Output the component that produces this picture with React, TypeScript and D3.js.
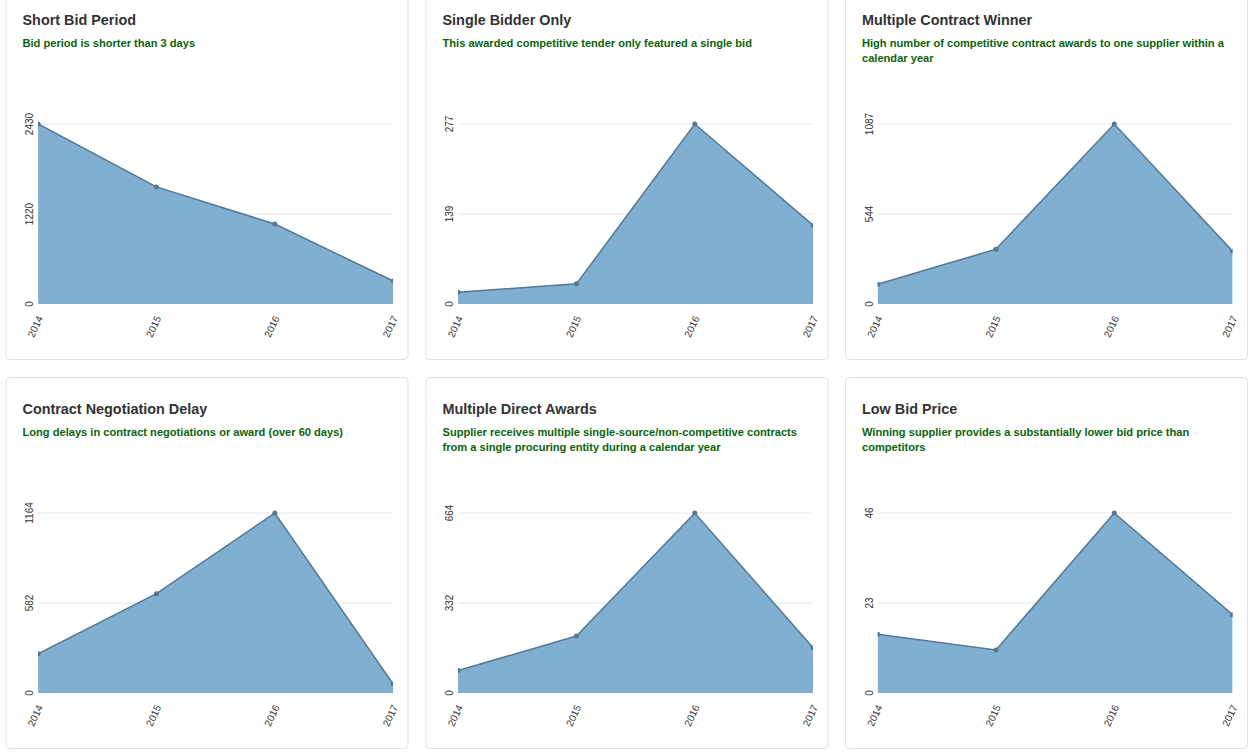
import React from "react";
import * as d3 from "d3";

const years = ["2014", "2015", "2016", "2017"];

const titles = [
  "Short Bid Period",
  "Single Bidder Only",
  "Multiple Contract Winner",
  "Contract Negotiation Delay",
  "Multiple Direct Awards",
  "Low Bid Price",
];

const subtitles = [
  ["Bid period is shorter than 3 days"],
  ["This awarded competitive tender only featured a single bid"],
  ["High number of competitive contract awards to one supplier within a", "calendar year"],
  ["Long delays in contract negotiations or award (over 60 days)"],
  ["Supplier receives multiple single-source/non-competitive contracts", "from a single procuring entity during a calendar year"],
  ["Winning supplier provides a substantially lower bid price than", "competitors"],
];

// counts per year for each red flag
const shortBid = [2430, 1581, 1080, 311];
const singleBidder = [18, 31, 277, 121];
const multiWinner = [119, 331, 1087, 319];
const negotiationDelay = [254, 642, 1164, 58];
const directAwards = [83, 210, 664, 167];
const lowBid = [15, 11, 46, 20];

const series = [shortBid, singleBidder, multiWinner, negotiationDelay, directAwards, lowBid];

// y tick labels as shown (0, half, max)
const tickLabels = [
  ["0", "1220", "2430"],
  ["0", "139", "277"],
  ["0", "544", "1087"],
  ["0", "582", "1164"],
  ["0", "332", "664"],
  ["0", "23", "46"],
];

const cardW = 402;
const cardH = 371;
const colX = [5.5, 425.5, 845];
const rowY = [-12, 377];
const plotLeft = 32.6;
const plotTop = 136;
const plotW = 355;
const plotH = 180;

const font = "'Liberation Sans', Arial, Helvetica, sans-serif";

function Panel({ i }: { i: number }) {
  const values = series[i];
  const max = d3.max(values) as number;
  const x = d3.scalePoint<string>().domain(years).range([0, plotW]);
  const y = d3.scaleLinear().domain([0, max]).range([plotH, 0]);
  const ticks = [0, max / 2, max];

  const pts = years.map((yr, k) => ({ yr, v: values[k] }));
  const area = d3
    .area<{ yr: string; v: number }>()
    .x((d) => x(d.yr) as number)
    .y0(plotH)
    .y1((d) => y(d.v));
  const line = d3
    .line<{ yr: string; v: number }>()
    .x((d) => x(d.yr) as number)
    .y((d) => y(d.v));

  const cx = colX[i % 3];
  const cy = rowY[Math.floor(i / 3)];
  const clipId = `clip-${i}`;

  return (
    <g transform={`translate(${cx},${cy})`}>
      <rect x={0.5} y={0.5} width={cardW} height={cardH} rx={4} fill="#fff" stroke="#e2e2e2" />
      <text x={17} y={37} fontSize={14.4} fontWeight="bold" fill="#333" fontFamily={font}>
        {titles[i]}
      </text>
      {subtitles[i].map((s, k) => (
        <text key={k} x={17} y={59 + k * 15} fontSize={11.1} fontWeight="bold" fill="#0b640b" fontFamily={font}>
          {s}
        </text>
      ))}
      <g transform={`translate(${plotLeft},${plotTop})`}>
        <defs>
          <clipPath id={clipId}>
            <rect x={0} y={-6} width={plotW} height={plotH + 6} />
          </clipPath>
        </defs>
        {ticks.slice(1).map((t, k) => (
          <line key={k} x1={0} x2={plotW} y1={y(t)} y2={y(t)} stroke="#e8e8e8" strokeWidth={1} />
        ))}
        <g clipPath={`url(#${clipId})`}>
          <path d={area(pts) || ""} fill="#80afd2" />
          <path d={line(pts) || ""} fill="none" stroke="#56788f" strokeWidth={1.5} />
          {pts.map((d, k) => (
            <circle key={k} cx={x(d.yr)} cy={y(d.v)} r={2.5} fill="#56788f" />
          ))}
        </g>
        {ticks.map((t, k) => (
          <text
            key={k}
            transform={`translate(-5,${y(t)}) rotate(-90)`}
            textAnchor="middle"
            fontSize={10}
            fill="#333"
            fontFamily={font}
          >
            {tickLabels[i][k]}
          </text>
        ))}
        {years.map((yr) => (
          <text
            key={yr}
            transform={`translate(${(x(yr) as number) + 5},${plotH + 14}) rotate(-65)`}
            textAnchor="end"
            fontSize={10}
            fill="#333"
            fontFamily={font}
          >
            {yr}
          </text>
        ))}
      </g>
    </g>
  );
}

export default function App() {
  return (
    <svg
      width={1255}
      height={754}
      style={{ position: "absolute", left: 0, top: 0, background: "#fff" }}
    >
      {titles.map((_, i) => (
        <Panel key={i} i={i} />
      ))}
    </svg>
  );
}
